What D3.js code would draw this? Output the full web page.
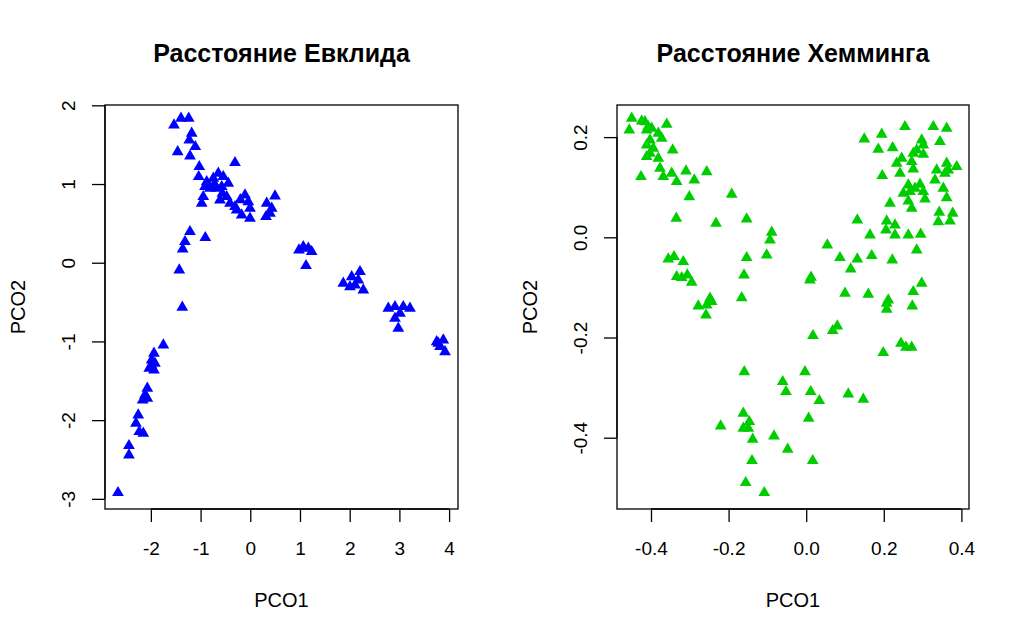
<!DOCTYPE html>
<html>
<head>
<meta charset="utf-8">
<script src="https://cdn.jsdelivr.net/npm/d3@7"></script>
<style>
  body { margin: 0; background: #fff; }
  text { font-family: "Liberation Sans", Arial, sans-serif; fill: #000; }
</style>
</head>
<body>
<script>
// PCO coordinates
const euclidPoints = [
    [-1.535, 1.750], [-1.394, 1.835], [-1.239, 1.835], [-1.179, 1.644], [-1.227, 1.559],
    [-1.107, 1.474], [-1.461, 1.410], [-1.213, 1.356], [-0.308, 1.271], [-1.026, 1.220],
    [-1.038, 1.093], [-0.877, 1.029], [-0.744, 1.072], [-0.644, 1.136], [-0.543, 1.093],
    [-0.443, 1.009], [-0.811, 0.945], [-0.676, 0.945], [-0.575, 0.966], [-0.911, 0.966],
    [-0.946, 0.839], [-0.978, 0.755], [-0.610, 0.797], [-0.475, 0.839], [-0.408, 0.755],
    [-0.308, 0.712], [-0.274, 0.670], [-0.173, 0.606], [-0.107, 0.860], [-0.040, 0.775],
    [-0.006, 0.691], [-0.006, 0.564], [0.330, 0.755], [0.431, 0.691], [0.497, 0.848],
    [0.316, 0.585], [0.396, 0.628], [-0.720, 1.000], [-0.560, 0.880], [-0.200, 0.800],
    [-1.213, 0.394], [-1.314, 0.267], [-1.360, 0.174], [-0.905, 0.318], [-1.429, -0.093],
    [-1.368, -0.567],
    [-1.749, -1.046], [-1.938, -1.151], [-1.984, -1.236], [-1.918, -1.278], [-2.032, -1.342],
    [-1.938, -1.363], [-1.990, -1.300], [-2.072, -1.596], [-2.119, -1.681], [-2.165, -1.745],
    [-2.072, -1.723], [-2.254, -1.935], [-2.300, -2.041], [-2.233, -2.147], [-2.153, -2.168],
    [-2.441, -2.325], [-2.441, -2.443], [-2.662, -2.922],
    [1.066, 0.203], [1.167, 0.183], [1.235, 0.140], [1.121, -0.038], [0.980, 0.161],
    [1.871, -0.262], [2.040, -0.178], [2.207, -0.114], [2.107, -0.283], [2.274, -0.347],
    [2.006, -0.305], [2.173, -0.220],
    [2.777, -0.579], [2.911, -0.559], [3.078, -0.559], [3.213, -0.579], [2.911, -0.707],
    [2.978, -0.834], [3.012, -0.643],
    [3.750, -1.004], [3.883, -0.982], [3.817, -1.067], [3.918, -1.131], [3.783, -1.024]
];

const hammingPoints = [
    [-0.4497, 0.2375], [-0.4559, 0.2142], [-0.4240, 0.2321], [-0.4155, 0.2307], [-0.4070, 0.2208],
    [-0.4111, 0.2142], [-0.3982, 0.2176], [-0.3595, 0.2255], [-0.3811, 0.2076], [-0.3724, 0.1976],
    [-0.4026, 0.1942], [-0.4111, 0.1842], [-0.3941, 0.1776], [-0.4111, 0.1609], [-0.4026, 0.1677],
    [-0.3811, 0.1577], [-0.3441, 0.1742], [-0.3768, 0.1377], [-0.3683, 0.1210], [-0.4258, 0.1210],
    [-0.3467, 0.1277], [-0.3338, 0.1110], [-0.3098, 0.1323], [-0.2884, 0.1144], [-0.2564, 0.1309],
    [-0.3013, 0.0810], [-0.1920, 0.0858], [-0.3348, 0.0379], [-0.2325, 0.0279], [-0.1534, 0.0365],
    [-0.0889, 0.0100], [-0.0933, -0.0054], [-0.1018, -0.0353], [-0.1534, -0.0407], [-0.1603, -0.0752],
    [-0.3554, -0.0433], [-0.3407, -0.0387], [-0.3168, -0.0487], [-0.3338, -0.0786], [-0.3209, -0.0806],
    [-0.3064, -0.0752], [-0.2951, -0.0898], [-0.1662, -0.1206], [-0.2479, -0.1218], [-0.2781, -0.1371],
    [-0.2564, -0.1351], [-0.2436, -0.1285], [-0.2582, -0.1551],
    [-0.1595, -0.2683], [-0.0606, -0.2882], [-0.0521, -0.3082], [-0.1621, -0.3513], [-0.1466, -0.3680],
    [-0.1621, -0.3812], [-0.1492, -0.3812], [-0.2204, -0.3766], [-0.1379, -0.4032], [-0.0830, -0.3966],
    [-0.0477, -0.4232], [-0.1397, -0.4459], [-0.1559, -0.4898], [-0.1080, -0.5098],
    [0.2075, -0.1317], [0.2075, -0.1437], [0.2735, -0.1371], [0.0802, -0.1770], [0.0683, -0.1864],
    [0.0175, -0.1964], [0.1987, -0.2303], [0.2443, -0.2116], [0.2572, -0.2196], [0.2719, -0.2196],
    [-0.0031, -0.2683], [0.0116, -0.3082], [0.0338, -0.3261], [0.1085, -0.3128], [0.1472, -0.3234],
    [0.0064, -0.3613], [0.0168, -0.4459],
    [0.2546, 0.2208], [0.3276, 0.2208], [0.3621, 0.2176], [0.1497, 0.1962], [0.1946, 0.2056],
    [0.1858, 0.1756], [0.2229, 0.1788], [0.2977, 0.1942], [0.3018, 0.1842], [0.2848, 0.1742],
    [0.3448, 0.1908], [0.2760, 0.1677], [0.3018, 0.1657], [0.2461, 0.1577], [0.2332, 0.1477],
    [0.2719, 0.1509], [0.2760, 0.1363], [0.2418, 0.1277], [0.1961, 0.1230], [0.3363, 0.1343],
    [0.3621, 0.1477], [0.3879, 0.1409], [0.3577, 0.1277], [0.3662, 0.1343], [0.3320, 0.1144],
    [0.2632, 0.1044], [0.2933, 0.1058], [0.2503, 0.0878], [0.2675, 0.0910], [0.2804, 0.0978],
    [0.3018, 0.0910], [0.3062, 0.0764], [0.2632, 0.0725], [0.2719, 0.0579], [0.3534, 0.0978],
    [0.3621, 0.0790], [0.2160, 0.0679], [0.3430, 0.0499], [0.3776, 0.0479], [0.3405, 0.0311],
    [0.3706, 0.0325], [0.1317, 0.0345], [0.2075, 0.0325], [0.2289, 0.0246], [0.2057, 0.0146],
    [0.2289, 0.0046], [0.1644, 0.0046], [0.2632, 0.0046], [0.2951, 0.0060], [0.2848, -0.0253],
    [0.0544, -0.0154], [0.0871, -0.0407], [0.1317, -0.0433], [0.1688, -0.0367], [0.1147, -0.0633],
    [0.2219, -0.0453], [0.0098, -0.0852], [0.0125, -0.0800], [0.1000, -0.1118], [0.1601, -0.1138],
    [0.2116, -0.1251], [0.2977, -0.0918], [0.2760, -0.1086]
];

const euclidXTicks = [-2, -1, 0, 1, 2, 3, 4];
const euclidYTicks = [-3, -2, -1, 0, 1, 2];
const hammingXTicks = [-0.4, -0.2, 0, 0.2, 0.4];
const hammingYTicks = [-0.4, -0.2, 0, 0.2];
const hammingTickLabels = ["-0.4", "-0.2", "0.0", "0.2", "0.4"];

const width = 1024, height = 640;

const svg = d3.select("body").append("svg")
    .attr("width", width)
    .attr("height", height);

const triangle = d3.symbol().type(d3.symbolTriangle).size(60);

function panel(opt) {
    const x = d3.scaleLinear(opt.xDomain, [opt.left, opt.right]);
    const y = d3.scaleLinear(opt.yDomain, [opt.bottom, opt.top]);
    const g = svg.append("g");

    // box
    g.append("rect")
        .attr("x", opt.left)
        .attr("y", opt.top)
        .attr("width", opt.right - opt.left)
        .attr("height", opt.bottom - opt.top)
        .attr("fill", "none")
        .attr("stroke", "#000")
        .attr("stroke-width", 1.3);

    const fmt = opt.format || (d => String(d).replace("\u2212", "-"));

    const xAxis = d3.axisBottom(x)
        .tickValues(opt.xTicks)
        .tickSize(13)
        .tickPadding(20)
        .tickFormat(fmt);
    g.append("g")
        .attr("transform", `translate(0,${opt.bottom})`)
        .call(xAxis)
        .call(a => a.selectAll("text")
            .attr("font-size", 19)
            .attr("font-family", null)
            .attr("fill", "#000"))
        .call(a => a.selectAll("line, path").attr("stroke", "#000").attr("stroke-width", 1.3))
        .call(a => a.select(".domain").attr("d", `M${x(opt.xTicks[0])},0H${x(opt.xTicks[opt.xTicks.length - 1])}`));

    const yAxis = d3.axisLeft(y)
        .tickValues(opt.yTicks)
        .tickSize(13)
        .tickFormat(fmt);
    g.append("g")
        .attr("transform", `translate(${opt.left},0)`)
        .call(yAxis)
        .call(a => a.selectAll("line, path").attr("stroke", "#000").attr("stroke-width", 1.3))
        .call(a => a.select(".domain").attr("d", `M0,${y(opt.yTicks[0])}V${y(opt.yTicks[opt.yTicks.length - 1])}`))
        .call(a => a.selectAll("text")
            .attr("font-size", 19)
            .attr("font-family", null)
            .attr("fill", "#000")
            .attr("x", null)
            .attr("dy", null)
            .attr("text-anchor", "middle")
            .attr("transform", `translate(-30,0) rotate(-90)`));

    // points
    g.append("g")
        .selectAll("path")
        .data(opt.points)
        .join("path")
        .attr("d", triangle)
        .attr("transform", d => `translate(${x(d[0])},${y(d[1])})`)
        .attr("fill", opt.color);

    const cx = (opt.left + opt.right) / 2;
    g.append("text")
        .attr("x", cx)
        .attr("y", 62)
        .attr("text-anchor", "middle")
        .attr("font-size", 25)
        .attr("font-weight", "bold")
        .text(opt.title);

    g.append("text")
        .attr("x", cx)
        .attr("y", 607)
        .attr("text-anchor", "middle")
        .attr("font-size", 20)
        .text("PCO1");

    g.append("text")
        .attr("transform", `translate(${opt.left - 80},${(opt.top + opt.bottom) / 2}) rotate(-90)`)
        .attr("text-anchor", "middle")
        .attr("font-size", 20)
        .text("PCO2");
}

panel({
    title: "Расстояние Евклида",
    points: euclidPoints,
    color: "#0000ff",
    left: 105, right: 458, top: 105, bottom: 509,
    xDomain: [-2.923, 4.179],
    yDomain: [-3.129, 2.004],
    xTicks: euclidXTicks,
    yTicks: euclidYTicks
});

panel({
    title: "Расстояние Хемминга",
    points: hammingPoints,
    color: "#00cd00",
    left: 617, right: 969, top: 105, bottom: 509,
    xDomain: [-0.4876, 0.4196],
    yDomain: [-0.5423, 0.2641],
    xTicks: hammingXTicks,
    yTicks: hammingYTicks,
    format: d => hammingTickLabels[hammingXTicks.indexOf(d)] || d3.format(".1f")(d).replace("\u2212", "-")
});
</script>
</body>
</html>
